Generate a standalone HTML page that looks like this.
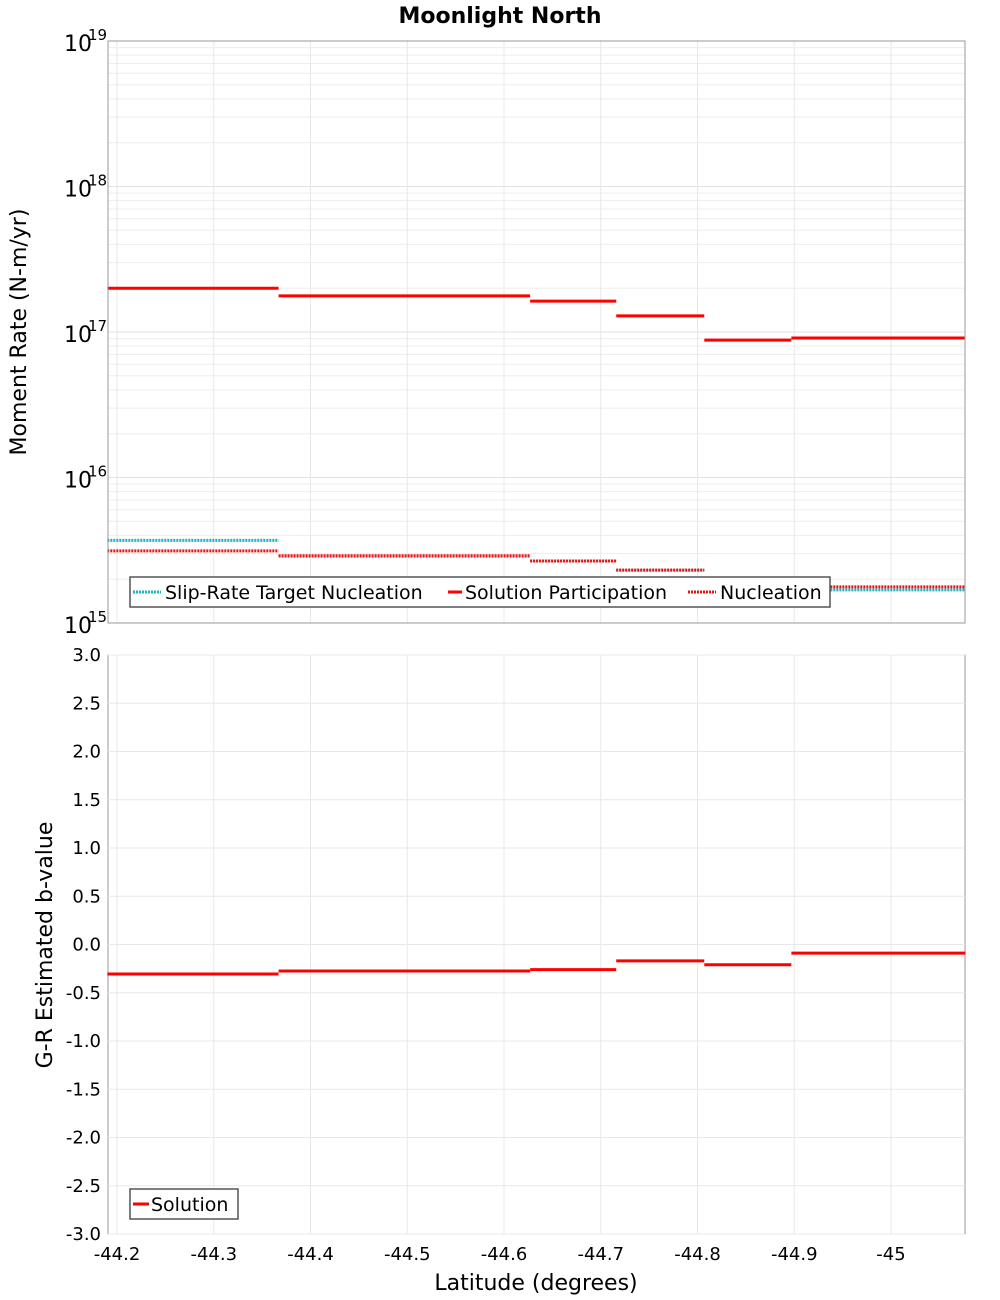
<!DOCTYPE html>
<html><head><meta charset="utf-8"><style>
html,body{margin:0;padding:0;background:#fff;}
svg{display:block;font-family:"DejaVu Sans","Liberation Sans",sans-serif;}
</style></head><body>
<svg id="chart" width="1000" height="1300" viewBox="0 0 1000 1300" xmlns="http://www.w3.org/2000/svg">
<text x="500" y="23" text-anchor="middle" font-size="22" font-weight="bold">Moonlight North</text>
<g id="topPanel"></g><g id="botPanel"></g>
<text x="536" y="1290" text-anchor="middle" font-size="22">Latitude (degrees)</text>
<text transform="translate(26,332) rotate(-90)" text-anchor="middle" font-size="22">Moment Rate (N-m/yr)</text>
<text transform="translate(52,945) rotate(-90)" text-anchor="middle" font-size="22">G-R Estimated b-value</text>
</svg>
<script>
const bounds=[-44.19,-44.367,-44.627,-44.716,-44.807,-44.897,-45.077];
const xTicks=[-44.2,-44.3,-44.4,-44.5,-44.6,-44.7,-44.8,-44.9,-45];
const xTickLabels=["-44.2","-44.3","-44.4","-44.5","-44.6","-44.7","-44.8","-44.9","-45"];
const participation=[2.0e17,1.77e17,1.63e17,1.29e17,8.8e16,9.1e16];
const nucleation=[3.13e15,2.9e15,2.67e15,2.31e15,1.63e15,1.77e15];
const targetNucleation=[3.7e15,2.88e15,2.67e15,2.31e15,1.63e15,1.69e15];
const bValues=[-0.306,-0.275,-0.26,-0.17,-0.21,-0.09];
const bTicks=[3,2.5,2,1.5,1,0.5,0,-0.5,-1,-1.5,-2,-2.5,-3];
const logTicks=[19,18,17,16,15];

const NS="http://www.w3.org/2000/svg";
const L=108,R=965;
const X=v=>117+(-44.2-v)*967.5;
const TT=41,TB=623, YT=v=>TT+(19-Math.log10(v))*(TB-TT)/4;
const BT=655,BB=1234, YB=v=>BT+(3-v)*(BB-BT)/6;
function mk(p,tag,a){const e=document.createElementNS(NS,tag);for(const k in a)e.setAttribute(k,a[k]);p.appendChild(e);return e;}
const topG=document.getElementById('topPanel'),botG=document.getElementById('botPanel');

for(let d=15;d<19;d++)for(let m=1;m<10;m++){const y=YT(m*Math.pow(10,d));
 const g=mk(topG,'line',{x1:L,x2:R,y1:y,y2:y,stroke:m==1?'#e2e2e2':'#eeeeee','stroke-width':1});
 
 }
xTicks.forEach(v=>{[topG,botG].forEach((p,i)=>{const g=mk(p,'line',{x1:X(v),x2:X(v),y1:i?BT:TT,y2:i?BB:TB,stroke:'#e8e8e8'});
 
 });});
bTicks.forEach(v=>{const g=mk(botG,'line',{x1:L,x2:R,y1:YB(v),y2:YB(v),stroke:'#e8e8e8'});
 
 });

logTicks.forEach(d=>{const y=YT(Math.pow(10,d));
 const t=mk(topG,'text',{x:64,y:y+10,'font-size':22});t.textContent='10';
 
 
 const s=mk(topG,'text',{x:88,y:y-1,'font-size':15});s.textContent=String(d);
 
 });
bTicks.forEach(v=>{const t=mk(botG,'text',{x:101,y:YB(v)+6,'text-anchor':'end','font-size':18});t.textContent=v.toFixed(1);
 
 });
xTicks.forEach((v,i)=>{const t=mk(botG,'text',{x:X(v),y:1260,'text-anchor':'middle','font-size':18});t.textContent=xTickLabels[i];
 
 });

function steps(p,arr,Y,color,dash,name){arr.forEach((v,i)=>{const a={x1:X(bounds[i]),x2:X(bounds[i+1]),y1:Y(v),y2:Y(v),stroke:color,'stroke-width':3};
 if(dash)a['stroke-dasharray']='2,1';const l=mk(p,'line',a);
 
 });}
steps(topG,targetNucleation,YT,'#19b5c4',true,'slip-rate-target-segment');
steps(topG,nucleation,YT,'#ee1111',true,'nucleation-segment');
steps(topG,participation,YT,'#ff0000',false,'participation-segment');
steps(botG,bValues,YB,'#ff0000',false,'b-value-segment');

[[TT,TB],[BT,BB]].forEach(([a,b])=>{const r=mk(topG,'rect',{x:L,y:a,width:R-L,height:b-a,fill:'none',stroke:'#999'});
 
 });

function legend(p,x,y,w,items){const r=mk(p,'rect',{x:x,y:y,width:w,height:30,fill:'#fff',stroke:'#555','stroke-width':1.5});
 
 
 items.forEach(it=>{const a={x1:it.x,x2:it.x+it.w,y1:y+15,y2:y+15,stroke:it.c,'stroke-width':3};if(it.d)a['stroke-dasharray']='2,1';
 const l=mk(p,'line',a);
 
 
 const t=mk(p,'text',{x:it.tx,y:y+22,'font-size':19});t.textContent=it.t;
 
 });}
legend(topG,130,577,700,[{x:133,w:28,tx:165,c:'#19b5c4',d:1,t:'Slip-Rate Target Nucleation'},{x:448,w:14,tx:465,c:'#ff0000',d:0,t:'Solution Participation'},{x:688,w:28,tx:720,c:'#ee1111',d:1,t:'Nucleation'}]);
legend(botG,130,1189,108,[{x:133,w:16,tx:151,c:'#ff0000',d:0,t:'Solution'}]);
</script>
</body></html>
